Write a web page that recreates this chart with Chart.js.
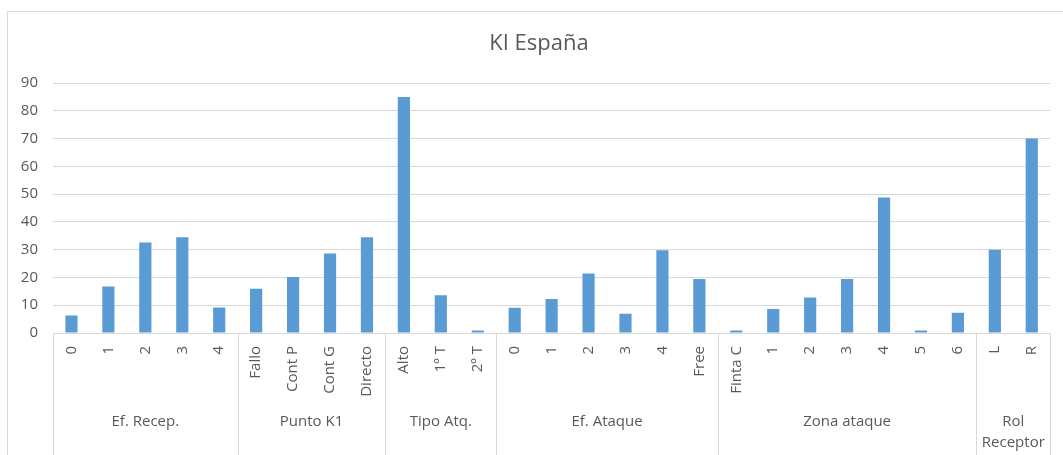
<!DOCTYPE html>
<html>
<head>
    <meta charset="utf-8">
    <title>KI España</title>
    <script src="https://cdn.jsdelivr.net/npm/chart.js"></script>
    <style>
        html, body { margin: 0; padding: 0; background: #fff; }
        #wrap { width: 1063px; height: 455px; position: relative; }
    </style>
</head>
<body>
<div id="wrap"><canvas id="kiChart"></canvas></div>
<script>
    const chartTitle = 'KI España';
    const categories = ['0', '1', '2', '3', '4',
        'Fallo', 'Cont P', 'Cont G', 'Directo',
        'Alto', '1º T', '2º T',
        '0', '1', '2', '3', '4', 'Free',
        'Finta C', '1', '2', '3', '4', '5', '6',
        'L', 'R'];
    const groupNames = ['Ef. Recep.', 'Punto K1', 'Tipo Atq.', 'Ef. Ataque', 'Zona ataque', 'Rol Receptor'];
    const groupSizes = [5, 4, 3, 6, 7, 2];
    const values = [6.3, 16.7, 32.6, 34.5, 9.2,
        15.9, 20.2, 28.6, 34.5,
        85.0, 13.6, 0.9,
        9.1, 12.2, 21.4, 6.9, 29.8, 19.4,
        0.9, 8.6, 12.8, 19.4, 48.8, 0.9, 7.3,
        30.0, 70.0];
    const yMin = 0, yMax = 90, yStep = 10;

    const textColor = '#595959';
    const lineColor = '#d9d9d9';
    const fontFamily = '"Open Sans", "Liberation Sans", sans-serif';

    // frame, title, group separators and group names
    const excelBits = {
        id: 'excelBits',
        afterDraw(chart) {
            const ctx = chart.ctx;
            const x = chart.scales.x;
            const area = chart.chartArea;
            ctx.save();
            ctx.strokeStyle = lineColor;
            ctx.lineWidth = 1;
            ctx.strokeRect(7.5, 11.5, chart.width + 20, chart.height + 20);

            ctx.fillStyle = textColor;
            ctx.font = '22px ' + fontFamily;
            ctx.textAlign = 'center';
            ctx.textBaseline = 'alphabetic';
            ctx.fillText(chartTitle, 539, 50);

            const half = (x.getPixelForValue(1) - x.getPixelForValue(0)) / 2;
            ctx.font = '15px ' + fontFamily;
            ctx.textBaseline = 'middle';
            let start = 0;
            const edges = [];
            groupSizes.forEach((n, g) => {
                const left = x.getPixelForValue(start) - half;
                const right = x.getPixelForValue(start + n - 1) + half;
                edges.push(left, right);
                // simple word wrap
                const words = groupNames[g].split(' ');
                const lines = [];
                let cur = '';
                words.forEach(w => {
                    const t = cur ? cur + ' ' + w : w;
                    if (cur && ctx.measureText(t).width > right - left - 6) {
                        lines.push(cur);
                        cur = w;
                    } else {
                        cur = t;
                    }
                });
                lines.push(cur);
                lines.forEach((l, i) => ctx.fillText(l, (left + right) / 2, 422 + i * 21));
                start += n;
            });
            edges.forEach(e => {
                const px = Math.round(e) + 0.5;
                ctx.beginPath();
                ctx.moveTo(px, area.bottom);
                ctx.lineTo(px, chart.height);
                ctx.stroke();
            });
            ctx.restore();
        }
    };

    new Chart(document.getElementById('kiChart'), {
        type: 'bar',
        data: {
            labels: categories,
            datasets: [{
                label: chartTitle,
                data: values,
                backgroundColor: '#5b9bd5',
                borderWidth: 0,
                categoryPercentage: 1,
                barPercentage: 0.33
            }]
        },
        options: {
            responsive: true,
            maintainAspectRatio: false,
            animation: false,
            layout: { padding: { top: 83, right: 12, left: 0, bottom: 0 } },
            plugins: {
                legend: { display: false },
                title: { display: false },
                tooltip: { enabled: false }
            },
            scales: {
                x: {
                    afterFit(scale) { scale.height = 122; },
                    grid: { display: false, drawTicks: false },
                    border: { display: true, color: lineColor, width: 1 },
                    ticks: {
                        autoSkip: false,
                        minRotation: 90,
                        maxRotation: 90,
                        padding: 13,
                        color: textColor,
                        font: { family: fontFamily, size: 15 }
                    }
                },
                y: {
                    min: yMin,
                    max: yMax,
                    afterFit(scale) { scale.width = 53; },
                    grid: { color: lineColor, lineWidth: 1, drawTicks: false },
                    border: { display: false },
                    ticks: {
                        stepSize: yStep,
                        padding: 15,
                        color: textColor,
                        font: { family: fontFamily, size: 15 }
                    }
                }
            }
        },
        plugins: [excelBits]
    });
</script>
</body>
</html>
